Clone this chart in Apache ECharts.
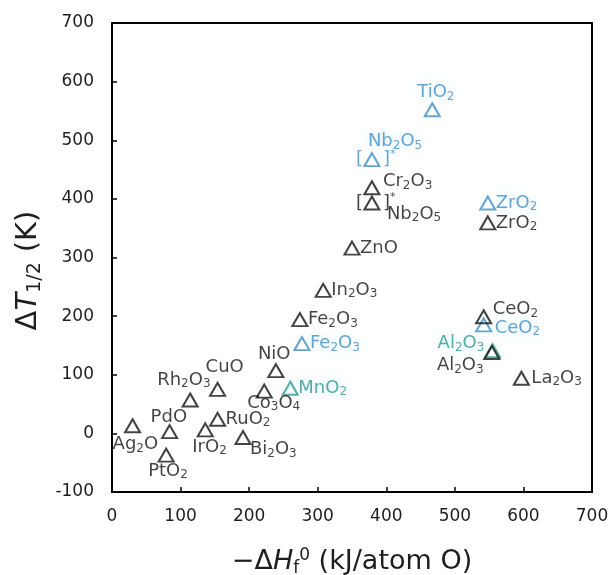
<!DOCTYPE html>
<html>
<head>
<meta charset="utf-8">
<script src="https://cdn.jsdelivr.net/npm/echarts@6/dist/echarts.min.js"></script>
<style>
  html, body { margin: 0; padding: 0; background: #fff; }
  #chart { width: 612px; height: 575px; }
</style>
</head>
<body>
<div id="chart"></div>
<script>
// Oxide catalysts: -ΔHf0 (kJ/atom O) vs ΔT1/2 (K)
const blackNames = ['Ag2O', 'PdO', 'PtO2', 'Rh2O3', 'CuO', 'IrO2', 'RuO2', 'Bi2O3', 'Co3O4', 'NiO',
  'Fe2O3', 'In2O3', 'ZnO', 'Cr2O3', 'Nb2O5', 'ZrO2', 'CeO2', 'Al2O3', 'La2O3'];
const blackX = [30, 84, 79, 114, 154, 136, 154, 191, 222, 239, 274, 308, 350, 379, 379, 548, 542, 554, 597];
const blackY = [13, 3, -37, 57, 75, 6, 24, -7, 72, 107, 194, 244, 316, 419, 393, 359, 199, 138, 94];

const blueNames = ['TiO2', 'Nb2O5', 'ZrO2', 'CeO2', 'Fe2O3'];
const blueX = [467, 379, 548, 542, 277];
const blueY = [552, 467, 393, 185, 153];

const tealNames = ['MnO2', 'Al2O3'];
const tealX = [260, 555];
const tealY = [77, 141];

// names of the points drawn inside brackets with an asterisk
const bracketed = ['Nb2O5'];

// label offsets (left edge / vertical middle of the text relative to the marker)
const blackLabelOffset = [[-20, 19], [-19, -14], [-18, 16], [-33, -20], [-12, -22], [-13, 17], [8, 0], [7, 12],
  [-17, 12], [-18, -16], [8, 0], [8, 0], [8, 0], [11, -6], [15, 11], [8, 0], [9, -7], [-55, 13], [10, 0]];
const blueLabelOffset = [[-15, -17], [-4, -18], [8, 0], [11, 3], [8, 0]];
const tealLabelOffset = [[8, 0], [-55, -7]];

const FONT = '"DejaVu Sans", "Liberation Sans", Arial, sans-serif';
const BLACK = '#141414';
const BLUE = '#3f8fc6';
const TEAL = '#2b9a8c';

function chem(name) {
  return name.replace(/(\d)/g, '{s|$1}');
}

function makeSeries(names, xs, ys, offsets, color, glow) {
  return {
    type: 'scatter',
    symbol: 'triangle',
    symbolSize: [15, 13],
    itemStyle: { color: 'rgba(0,0,0,0)', borderColor: color, borderWidth: 2 },
    emphasis: { disabled: true },
    z: glow ? 3 : 4,
    label: {
      show: true,
      position: 'inside',
      align: 'left',
      verticalAlign: 'middle',
      fontFamily: FONT,
      fontSize: 18,
      lineHeight: 20,
      color: color,
      textShadowColor: glow ? 'rgba(140,210,240,0.55)' : 'transparent',
      textShadowBlur: glow ? 8 : 0,
      formatter: p => chem(p.name),
      rich: {
        s: { fontFamily: FONT, fontSize: 12, lineHeight: 12, verticalAlign: 'bottom', color: color }
      }
    },
    data: names.map((n, i) => ({
      name: n,
      value: [xs[i], ys[i]],
      label: { offset: offsets[i] }
    }))
  };
}

// brackets around selected markers
const bracketData = [];
bracketed.forEach(n => {
  const i = blackNames.indexOf(n);
  if (i >= 0) bracketData.push({ value: [blackX[i], blackY[i]], c: BLACK });
  const j = blueNames.indexOf(n);
  if (j >= 0) bracketData.push({ value: [blueX[j], blueY[j]], c: BLUE });
});

const bracketSeries = {
  type: 'scatter',
  symbol: 'circle',
  symbolSize: 1,
  itemStyle: { color: 'rgba(0,0,0,0)' },
  emphasis: { disabled: true },
  silent: true,
  z: 5,
  data: bracketData.map(d => ({
    value: d.value,
    label: {
      show: true,
      position: 'inside',
      align: 'left',
      verticalAlign: 'middle',
      offset: [-16, 0],
      formatter: '{b|[}{g|}{b|]}{a|*}',
      rich: {
        b: { fontFamily: FONT, fontSize: 18, lineHeight: 22, color: d.c },
        g: { width: 20, lineHeight: 22 },
        a: { fontFamily: FONT, fontSize: 11, lineHeight: 11, verticalAlign: 'top', color: d.c }
      }
    }
  }))
};

const chart = echarts.init(document.getElementById('chart'), null, { renderer: 'canvas' });

chart.setOption({
  animation: false,
  backgroundColor: '#ffffff',
  grid: {
    left: 112, right: 20, top: 23, bottom: 83,
    outerBoundsMode: 'none',
    show: true, borderColor: '#000', borderWidth: 2, backgroundColor: 'transparent'
  },
  xAxis: {
    type: 'value',
    min: 0, max: 700, interval: 100,
    splitLine: { show: false },
    axisLine: { show: true, onZero: false, lineStyle: { color: '#000', width: 2 } },
    axisTick: { show: true, inside: true, length: 5, lineStyle: { color: '#000', width: 1.5 } },
    axisLabel: { fontFamily: FONT, fontSize: 17, color: '#1e1e1e', margin: 16 },
    name: '{t|−Δ}{i|H}{sb|f}{sp|0}{t| (kJ/atom O)}',
    nameLocation: 'middle',
    nameGap: 55,
    nameTextStyle: {
      rich: {
        t: { fontFamily: FONT, fontSize: 27, color: '#1e1e1e', lineHeight: 30 },
        i: { fontFamily: FONT, fontSize: 27, fontStyle: 'italic', color: '#1e1e1e', lineHeight: 30 },
        sb: { fontFamily: FONT, fontSize: 17, color: '#1e1e1e', lineHeight: 17, verticalAlign: 'bottom' },
        sp: { fontFamily: FONT, fontSize: 17, color: '#1e1e1e', lineHeight: 17, verticalAlign: 'top' }
      }
    }
  },
  yAxis: {
    type: 'value',
    min: -100, max: 700, interval: 100,
    splitLine: { show: false },
    axisLine: { show: true, onZero: false, lineStyle: { color: '#000', width: 2 } },
    axisTick: { show: true, inside: true, length: 5, lineStyle: { color: '#000', width: 1.5 } },
    axisLabel: { fontFamily: FONT, fontSize: 17, color: '#1e1e1e', margin: 18 },
    name: '{t|Δ}{i|T}{sb|1/2}{gap|}{t|(K)}',
    nameLocation: 'middle',
    nameRotate: 90,
    nameGap: 56,
    nameTextStyle: {
      padding: [0, 26, 0, 0],
      rich: {
        t: { fontFamily: FONT, fontSize: 29, color: '#1e1e1e', lineHeight: 32 },
        i: { fontFamily: FONT, fontSize: 29, fontStyle: 'italic', color: '#1e1e1e', lineHeight: 32 },
        sb: { fontFamily: FONT, fontSize: 19, color: '#1e1e1e', lineHeight: 19, verticalAlign: 'bottom' },
        gap: { width: 10, lineHeight: 32 }
      }
    }
  },
  series: [
    makeSeries(blackNames, blackX, blackY, blackLabelOffset, BLACK, false),
    makeSeries(blueNames, blueX, blueY, blueLabelOffset, BLUE, true),
    makeSeries(tealNames, tealX, tealY, tealLabelOffset, TEAL, true),
    bracketSeries
  ]
});
</script>
</body>
</html>
